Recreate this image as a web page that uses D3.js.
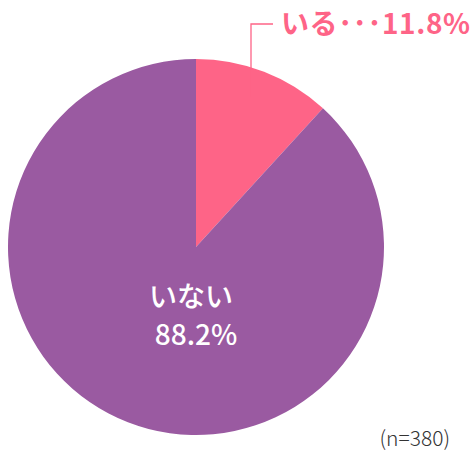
<!DOCTYPE html>
<meta charset="utf-8">
<title>いる・いない</title>
<style>
body { margin: 0; background: #fff; }
text { font-family: "Noto Sans CJK JP", "Noto Sans", sans-serif; }
</style>
<body>
<script src="https://cdn.jsdelivr.net/npm/d3@7/dist/d3.min.js"></script>
<script>
var labels = ["いる", "いない"],
    values = [11.8, 88.2],
    colors = ["#fe6487", "#9a5aa1"],
    sampleNote = "(n=380)";

var w = 472, h = 451,
    cx = 196, cy = 247, r = 188;

var svg = d3.select("body").append("svg")
    .attr("width", w)
    .attr("height", h);

var pie = d3.pie().sort(null).value(function(d) { return d; });
var arc = d3.arc().innerRadius(0).outerRadius(r);
var arcs = pie(values);

var g = svg.append("g").attr("transform", "translate(" + cx + "," + cy + ")");

g.selectAll("path")
    .data(arcs)
  .enter().append("path")
    .attr("d", arc)
    .style("fill", function(d, i) { return colors[i]; });

// leader line for the small slice
var lx = 55, ly = -150;
g.append("path")
    .attr("d", "M" + lx + "," + ly + "V" + (-r - 35) + "H" + (lx + 22))
    .style("fill", "none")
    .style("stroke", colors[0])
    .style("stroke-width", 1.3);

g.append("text")
    .attr("x", lx + 30)
    .attr("y", -r - 25)
    .style("fill", colors[0])
    .style("font-size", "28px")
    .style("font-weight", "bold")
    .style("letter-spacing", "0.6px")
    .text(labels[0] + "･･･" + values[0] + "%");

// label inside big slice
var big = g.append("text")
    .attr("text-anchor", "middle")
    .style("fill", "#fff")
    .style("font-size", "28px")
    .style("font-weight", "500");
big.append("tspan").attr("x", -5).attr("y", 60).text(labels[1]);
big.append("tspan").attr("x", 0).attr("y", 98).text(values[1] + "%");

svg.append("text")
    .attr("x", 450)
    .attr("y", 446)
    .attr("text-anchor", "end")
    .style("fill", "#333")
    .style("font-size", "21px")
    .style("font-weight", "300")
    .text(sampleNote);
</script>
